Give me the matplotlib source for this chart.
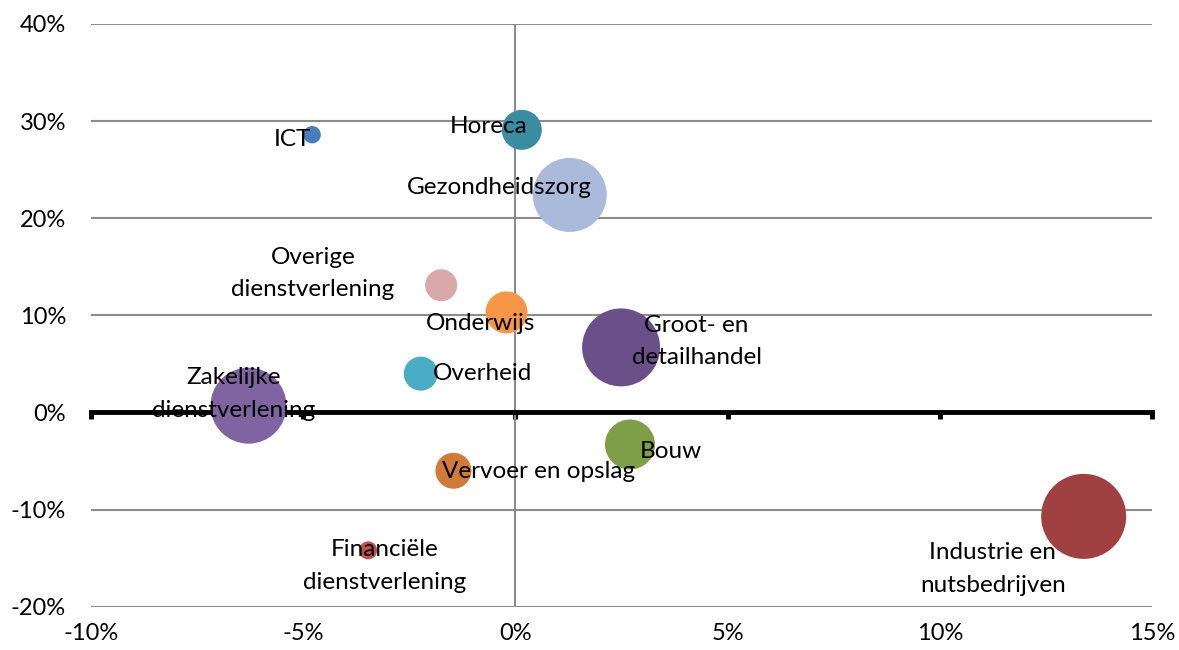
import matplotlib.pyplot as plt
from matplotlib.ticker import FuncFormatter

plt.rcParams['font.family'] = ['Lato', 'DejaVu Sans']

# Sectors: employment growth (x) vs. vacancy change (y), bubble = size of sector
sectors = ["ICT", "Horeca", "Gezondheidszorg", "Overige\ndienstverlening", "Onderwijs",
           "Groot- en\ndetailhandel", "Overheid", "Zakelijke\ndienstverlening", "Bouw",
           "Vervoer en opslag", "Industrie en\nnutsbedrijven", "Financiële\ndienstverlening"]
x_vals = [-4.79, 0.15, 1.28, -1.75, -0.21, 2.49, -2.23, -6.29, 2.70, -1.46, 13.39, -3.47]
y_vals = [28.6, 29.1, 22.4, 13.1, 10.3, 6.7, 4.0, 0.7, -3.3, -6.0, -10.7, -14.2]
sizes = [76, 400, 1370, 256, 441, 1520, 289, 1444, 625, 324, 1806, 81]
colors = ["#4A7EBB", "#3A8CA1", "#AABADA", "#D9A9A9", "#F79646", "#6A5088",
          "#4BACC6", "#8064A2", "#7F9E48", "#D07B3A", "#A04040", "#C0504D"]

# label anchor positions (data units)
label_x = [-5.26, -0.62, -0.37, -4.77, -0.81, 4.27, -0.77, -6.63, 3.66, 0.55, 11.25, -3.07]
label_y = [28.1, 29.4, 23.2, 14.3, 9.2, 7.3, 4.0, 1.9, -4.0, -6.1, -16.1, -15.8]

fig = plt.figure(figsize=(11.79, 6.5), dpi=100)
ax = fig.add_axes([0.0772, 0.0666, 0.8999, 0.8965])

ax.set_xlim(-10, 15)
ax.set_ylim(-20, 40)
ax.set_yticks(range(-20, 41, 10))
ax.set_xticks(range(-10, 16, 5))
ax.yaxis.grid(True, color="#8c8c8c", lw=1.5, zorder=0)
ax.set_axisbelow(True)
ax.axvline(0, color="#8c8c8c", lw=1.5, zorder=1)

# zero axis line with ticks
for s in ["left", "right", "top"]:
    ax.spines[s].set_visible(False)
ax.spines["bottom"].set_position(("data", 0))
ax.spines["bottom"].set_linewidth(3.5)
ax.spines["bottom"].set_zorder(1.5)
ax.tick_params(axis="x", direction="out", length=5, width=3.5, labelbottom=False)
ax.tick_params(axis="y", length=0, pad=18, labelsize=17)
ax.yaxis.set_major_formatter(FuncFormatter(lambda v, p: f"{v:.0f}%"))

sec = ax.secondary_xaxis(0)
sec.set_xticks(range(-10, 16, 5))
sec.tick_params(length=0, pad=12, labelsize=17)
sec.xaxis.set_major_formatter(FuncFormatter(lambda v, p: f"{v:.0f}%"))
sec.spines["bottom"].set_visible(False)

s_pts = [v * (2 * 0.72) ** 2 for v in sizes]
ax.scatter(x_vals, y_vals, s=s_pts, c=colors, linewidths=0, zorder=2)

for name, lx, ly in zip(sectors, label_x, label_y):
    ax.text(lx, ly, name, ha="center", va="center", fontsize=17.5,
            linespacing=1.68, color="black", zorder=3)

plt.savefig("out.png", dpi=100)
